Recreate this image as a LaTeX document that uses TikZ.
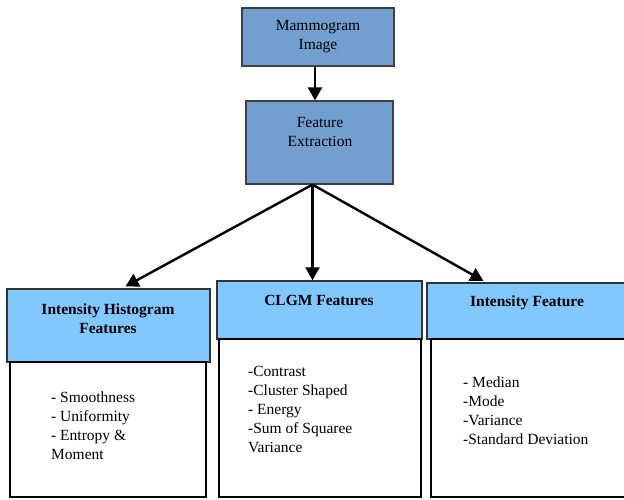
\documentclass[tikz,border=0pt]{standalone}
\usepackage{fontspec}
\setmainfont{Liberation Serif}
\usetikzlibrary{arrows.meta}
\definecolor{stageblue}{RGB}{114,159,208}
\definecolor{headblue}{RGB}{128,200,255}

\begin{document}
\begin{tikzpicture}[x=1pt, y=-1pt,
	stage/.style={draw=black!75, line width=1.2pt, fill=stageblue, inner sep=0pt},
	head/.style={draw=black!80, line width=1.4pt, fill=headblue, inner sep=0pt},
	list/.style={draw=black, line width=1.8pt, fill=white, inner sep=0pt},
	txt/.style={inner sep=0pt, font=\fontsize{15.5}{19}\selectfont},
	headtxt/.style={inner sep=0pt, font=\fontsize{15.5}{19}\selectfont\bfseries},
	flow/.style={line width=2.4pt, -{Triangle[length=13pt,width=14pt]}}]
	\useasboundingbox (0,0) rectangle (624,499);

	% main stages
	\node [stage, txt, align=center, minimum width=152pt, minimum height=58pt] (mam) at (318,37) {Mammogram\\Image};
	\node [stage, minimum width=147pt, minimum height=83pt] (fe) at (319.5,142.5) {};
	\node [txt, align=center, anchor=north] (fetxt) at (320,116.7) {Feature\\Extraction};

	% feature groups
	\node [head, minimum width=203pt, minimum height=73pt] (ihf) at (108.5,325.5) {};
	\node [list, minimum width=196pt, minimum height=135pt] (ihl) at (108,429.5) {};
	\node [headtxt, align=center, anchor=north] (ihftxt) at (108,303.7) {Intensity Histogram\\Features};
	\node [txt, align=left, anchor=north west] (ihltxt) at (51,391.4) {- Smoothness\\- Uniformity\\- Entropy \&\\Moment};

	\node [head, minimum width=205pt, minimum height=58pt] (clgm) at (319.5,310) {};
	\node [list, minimum width=202pt, minimum height=158pt] (clgml) at (320,418) {};
	\node [headtxt, anchor=base] (clgmtxt) at (319,305) {CLGM Features};
	\node [txt, align=left, anchor=north west] (clgmltxt) at (248,366.4) {-Contrast\\-Cluster Shaped\\- Energy\\-Sum of Squaree\\Variance};

	\node [head, minimum width=205pt, minimum height=56pt] (inf) at (529.5,311) {};
	\node [list, minimum width=198pt, minimum height=158pt] (infl) at (530,418) {};
	\node [headtxt, anchor=base] (inftxt) at (527,306.7) {Intensity Feature};
	\node [txt, align=left, anchor=north west] (infltxt) at (463,376.4) {- Median\\-Mode\\-Variance\\-Standard Deviation};

	% arrows
	\coordinate (hub) at ([xshift=-7pt]fe.south);
	\draw [flow] ([xshift=-3pt]mam.south) -- ([xshift=-3pt]mam.south |- fe.north);
	\draw [flow, shorten >=4pt] (hub) -- ([xshift=13.5pt]ihf.north);
	\draw [flow] (hub) -- (hub |- clgm.north);
	\draw [flow, shorten >=3pt] (hub) -- ([xshift=-43.5pt]inf.north);
\end{tikzpicture}
\end{document}
